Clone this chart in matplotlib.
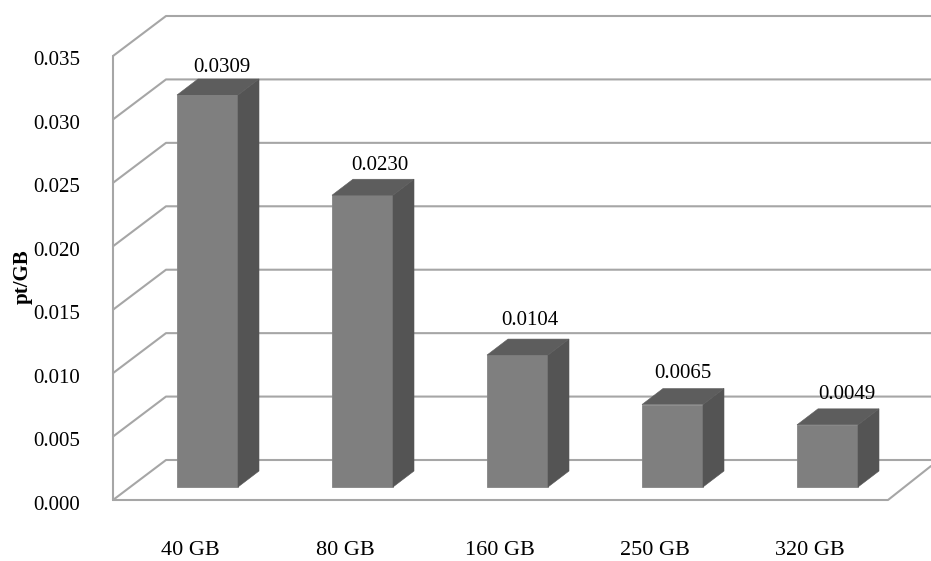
import matplotlib
matplotlib.use("Agg")
import matplotlib.pyplot as plt
from matplotlib.transforms import ScaledTranslation

plt.rcParams["font.family"] = ["Liberation Serif", "DejaVu Serif"]

categories = ["40 GB", "80 GB", "160 GB", "250 GB", "320 GB"]
values = [0.0309, 0.0230, 0.0104, 0.0065, 0.0049]
value_labels = ["0.0309", "0.0230", "0.0104", "0.0065", "0.0049"]
y_ticks = [0.000, 0.005, 0.010, 0.015, 0.020, 0.025, 0.030, 0.035]

W, H = 931, 561
# Plot box in pixels: left wall to right edge, front-plane top to front floor edge.
LEFT, RIGHT, TOP, BOTTOM = 113, 931, 56, 500
PX_PER_CAT = 155
FIRST_TICK_PX = 190

fig = plt.figure(figsize=(W / 100, H / 100), dpi=100, facecolor="white")
ax = fig.add_axes([LEFT / W, 1 - BOTTOM / H, (RIGHT - LEFT) / W, (BOTTOM - TOP) / H])
ax.set_xlim((LEFT - FIRST_TICK_PX) / PX_PER_CAT, (RIGHT - FIRST_TICK_PX) / PX_PER_CAT)
ax.set_ylim(0, 0.035)
ax.set_facecolor("none")
for spine in ax.spines.values():
    spine.set_visible(False)

px_x = 1 / PX_PER_CAT
px_y = 0.035 / (BOTTOM - TOP)

# Wall and floor depth of the pseudo-3D frame
wall_dx, wall_dy = 53 * px_x, 40 * px_y
xmin, xmax = ax.get_xlim()
grid_style = dict(color="#a6a6a6", lw=1.5, clip_on=False, zorder=1, solid_capstyle="round")

for t in y_ticks:
    ax.plot([xmin, xmin + wall_dx, xmax], [t, t + wall_dy, t + wall_dy], **grid_style)
ax.plot([xmin, xmin], [0, 0.035], **grid_style)
floor_right = xmin + 775 * px_x
ax.plot([xmin, floor_right, floor_right + 43 * px_x], [0, 0, 34 * px_y], **grid_style)

# Bars: front face plus shaded side and top faces
bar_width = 61 * px_x
bar_shift = 17.5 * px_x
bar_base = 13 * px_y
depth_dx, depth_dy = 21 * px_x, 16 * px_y
positions = [i + bar_shift for i in range(len(values))]

ax.bar(positions, values, width=bar_width, bottom=bar_base, color="#7f7f7f",
       edgecolor="#858585", linewidth=0.6, zorder=3)
for x, v in zip(positions, values):
    x0, x1 = x - bar_width / 2, x + bar_width / 2
    y0, y1 = bar_base, bar_base + v
    ax.fill([x1, x1 + depth_dx, x1 + depth_dx, x1],
            [y0, y0 + depth_dy, y1 + depth_dy, y1],
            color="#545454", lw=0.4, zorder=3)
    ax.fill([x0, x1, x1 + depth_dx, x0 + depth_dx],
            [y1, y1, y1 + depth_dy, y1 + depth_dy],
            color="#5d5d5d", lw=0.4, zorder=3)

# Value labels sit above the bar tops, nudged toward the back face
label_shift_px = [14, 17, 12, 10, 19.5]
label_rise_px = [28, 30, 35, 31, 30]
for x, v, text, sx, ry in zip(positions, values, value_labels, label_shift_px, label_rise_px):
    ax.text(x + sx * px_x, bar_base + v + ry * px_y, text, ha="center", va="center",
            fontsize=15, color="black", zorder=4)

ax.set_xticks(range(len(categories)))
ax.set_xticklabels(categories, fontsize=16)
ax.set_yticks(y_ticks)
ax.set_yticklabels([f"{t:.3f}" for t in y_ticks], fontsize=15)
ax.tick_params(axis="x", length=0, pad=29.5)
ax.tick_params(axis="y", length=0, pad=23.5)

# Axis numbers sit a little below their grid lines
y_label_drop = ScaledTranslation(0, -2.5 / 100, fig.dpi_scale_trans)
for label in ax.get_yticklabels():
    label.set_transform(label.get_transform() + y_label_drop)

fig.text(23 / W, 1 - 277 / H, "pt/GB", rotation=90, ha="center", va="center",
         fontsize=15, fontweight="bold")

fig.savefig("out.png", dpi=100, facecolor="white")
